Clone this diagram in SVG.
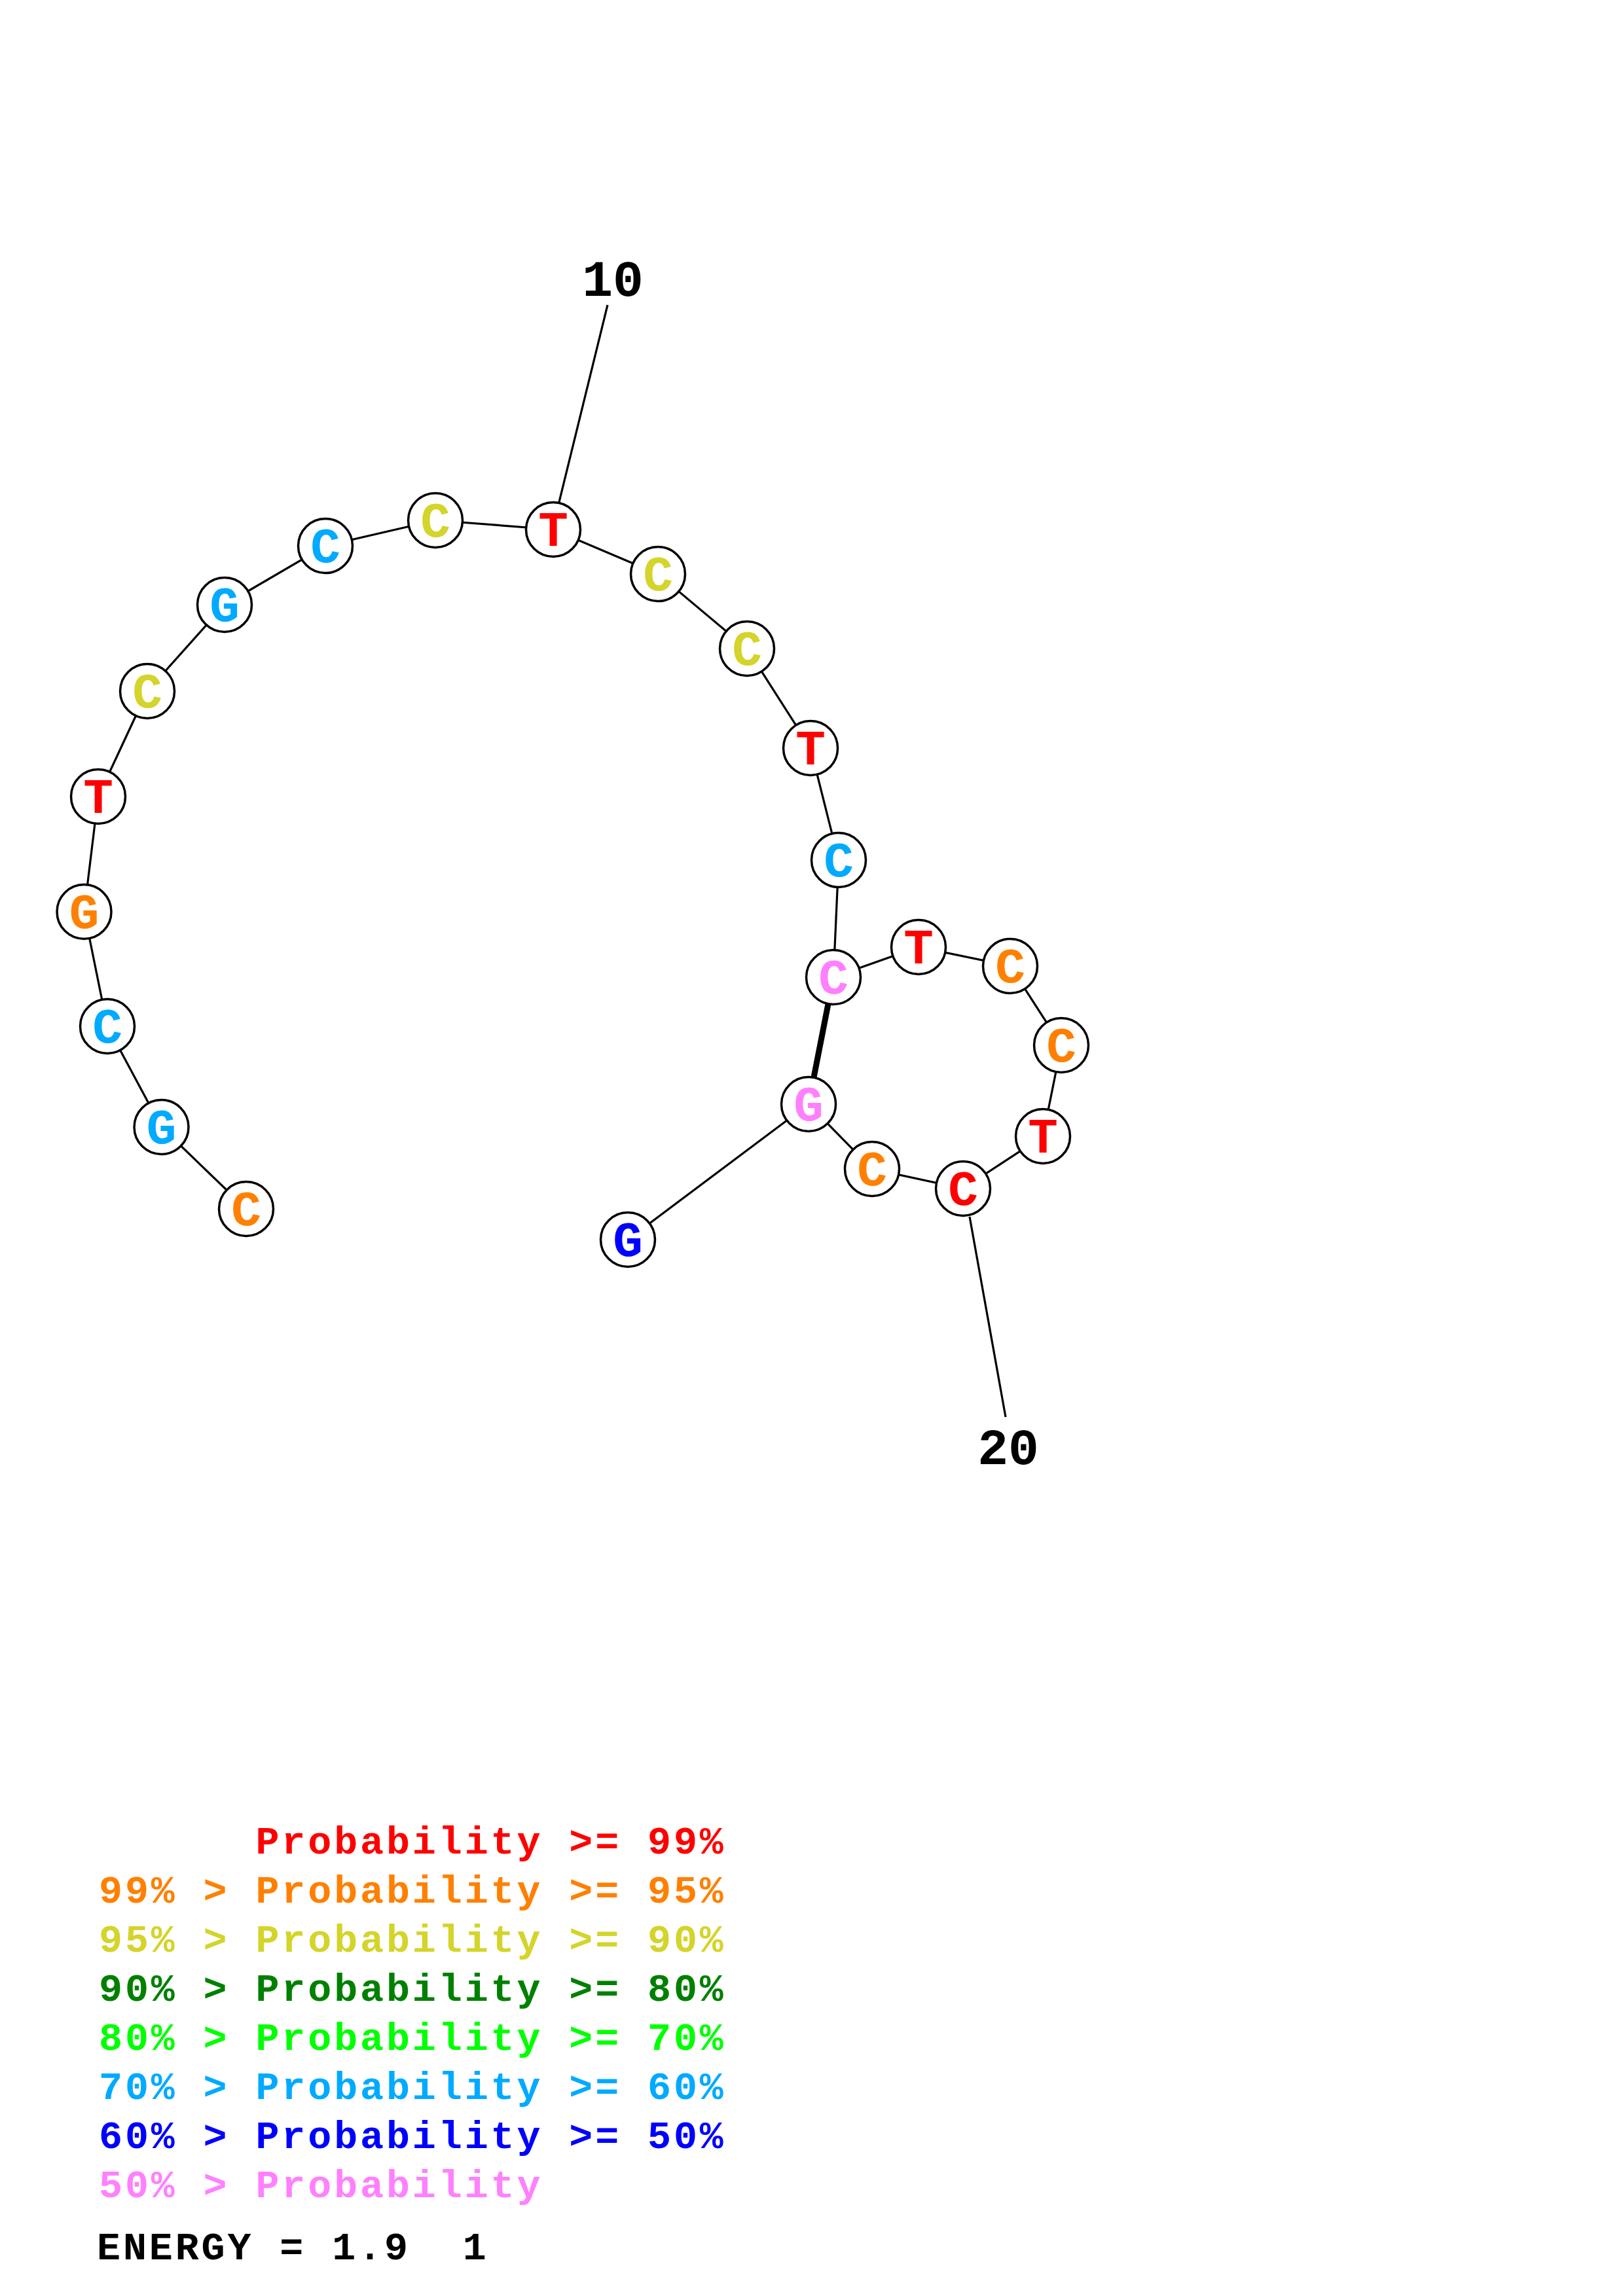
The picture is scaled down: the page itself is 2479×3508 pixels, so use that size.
<svg xmlns="http://www.w3.org/2000/svg" width="2479" height="3508" viewBox="0 0 2479 3508">
<style>
.bb{stroke:#000;stroke-width:3.2;fill:none}
.pair{stroke:#000;stroke-width:9;fill:none}
.nd circle{fill:#fff;stroke:#000;stroke-width:3.5}
.nd text{font-family:"Liberation Mono","DejaVu Sans Mono",monospace;font-weight:bold;font-size:76px;text-anchor:middle}
.lbl{font-family:"Liberation Mono","DejaVu Sans Mono",monospace;font-weight:bold;font-size:78px;text-anchor:middle;fill:#000}
.lg{font-family:"Liberation Mono","DejaVu Sans Mono",monospace;font-weight:bold;font-size:60px;letter-spacing:3.9px;white-space:pre}
.red{fill:#FF0000}.org{fill:#FF8000}.yel{fill:#D4D42A}.dgr{fill:#008000}.grn{fill:#00FF00}.lbu{fill:#00AAFF}.blu{fill:#0000FF}.pnk{fill:#FF80FF}
</style>
<rect x="0" y="0" width="2479" height="3508" fill="#fff"/>
<g id="connectors">
<polyline class="bb" points="376,1847 246.5,1722 164,1568 128.5,1393 150,1217 225,1056 343,924 497,834 665,795 845,809 1005,877 1141,991 1238,1143 1281,1314 1273,1493 1403,1447 1543,1476 1621,1597 1593,1736 1471,1816 1332,1786 1235,1687 959,1894"/>
<line class="pair" x1="1273" y1="1493" x2="1235" y2="1687"/>
<line class="bb" x1="854" y1="767" x2="928" y2="466"/>
<line class="bb" x1="1481" y1="1859" x2="1536" y2="2165"/>
</g>
<g id="n1" class="nd"><circle cx="376" cy="1847" r="41.5"/><text x="376" y="1872" class="org">C</text></g>
<g id="n2" class="nd"><circle cx="246.5" cy="1722" r="41.5"/><text x="246.5" y="1747" class="lbu">G</text></g>
<g id="n3" class="nd"><circle cx="164" cy="1568" r="41.5"/><text x="164" y="1593" class="lbu">C</text></g>
<g id="n4" class="nd"><circle cx="128.5" cy="1393" r="41.5"/><text x="128.5" y="1418" class="org">G</text></g>
<g id="n5" class="nd"><circle cx="150" cy="1217" r="41.5"/><text x="150" y="1242" class="red">T</text></g>
<g id="n6" class="nd"><circle cx="225" cy="1056" r="41.5"/><text x="225" y="1081" class="yel">C</text></g>
<g id="n7" class="nd"><circle cx="343" cy="924" r="41.5"/><text x="343" y="949" class="lbu">G</text></g>
<g id="n8" class="nd"><circle cx="497" cy="834" r="41.5"/><text x="497" y="859" class="lbu">C</text></g>
<g id="n9" class="nd"><circle cx="665" cy="795" r="41.5"/><text x="665" y="820" class="yel">C</text></g>
<g id="n10" class="nd"><circle cx="845" cy="809" r="41.5"/><text x="845" y="834" class="red">T</text></g>
<g id="n11" class="nd"><circle cx="1005" cy="877" r="41.5"/><text x="1005" y="902" class="yel">C</text></g>
<g id="n12" class="nd"><circle cx="1141" cy="991" r="41.5"/><text x="1141" y="1016" class="yel">C</text></g>
<g id="n13" class="nd"><circle cx="1238" cy="1143" r="41.5"/><text x="1238" y="1168" class="red">T</text></g>
<g id="n14" class="nd"><circle cx="1281" cy="1314" r="41.5"/><text x="1281" y="1339" class="lbu">C</text></g>
<g id="n15" class="nd"><circle cx="1273" cy="1493" r="41.5"/><text x="1273" y="1518" class="pnk">C</text></g>
<g id="n16" class="nd"><circle cx="1403" cy="1447" r="41.5"/><text x="1403" y="1472" class="red">T</text></g>
<g id="n17" class="nd"><circle cx="1543" cy="1476" r="41.5"/><text x="1543" y="1501" class="org">C</text></g>
<g id="n18" class="nd"><circle cx="1621" cy="1597" r="41.5"/><text x="1621" y="1622" class="org">C</text></g>
<g id="n19" class="nd"><circle cx="1593" cy="1736" r="41.5"/><text x="1593" y="1761" class="red">T</text></g>
<g id="n20" class="nd"><circle cx="1471" cy="1816" r="41.5"/><text x="1471" y="1841" class="red">C</text></g>
<g id="n21" class="nd"><circle cx="1332" cy="1786" r="41.5"/><text x="1332" y="1811" class="org">C</text></g>
<g id="n22" class="nd"><circle cx="1235" cy="1687" r="41.5"/><text x="1235" y="1712" class="pnk">G</text></g>
<g id="n23" class="nd"><circle cx="959" cy="1894" r="41.5"/><text x="959" y="1919" class="blu">G</text></g>
<g id="labels">
<text class="lbl" x="936" y="452">10</text>
<text class="lbl" x="1540" y="2237">20</text>
</g>
<g id="legend">
<text class="lg red" x="151" y="2832" xml:space="preserve">      Probability &gt;= 99%</text>
<text class="lg org" x="151" y="2907" xml:space="preserve">99% &gt; Probability &gt;= 95%</text>
<text class="lg yel" x="151" y="2982" xml:space="preserve">95% &gt; Probability &gt;= 90%</text>
<text class="lg dgr" x="151" y="3057" xml:space="preserve">90% &gt; Probability &gt;= 80%</text>
<text class="lg grn" x="151" y="3132" xml:space="preserve">80% &gt; Probability &gt;= 70%</text>
<text class="lg lbu" x="151" y="3207" xml:space="preserve">70% &gt; Probability &gt;= 60%</text>
<text class="lg blu" x="151" y="3282" xml:space="preserve">60% &gt; Probability &gt;= 50%</text>
<text class="lg pnk" x="151" y="3357" xml:space="preserve">50% &gt; Probability</text>
<text class="lg" x="148" y="3452" fill="#000" xml:space="preserve">ENERGY = 1.9  1</text>
</g>
</svg>
